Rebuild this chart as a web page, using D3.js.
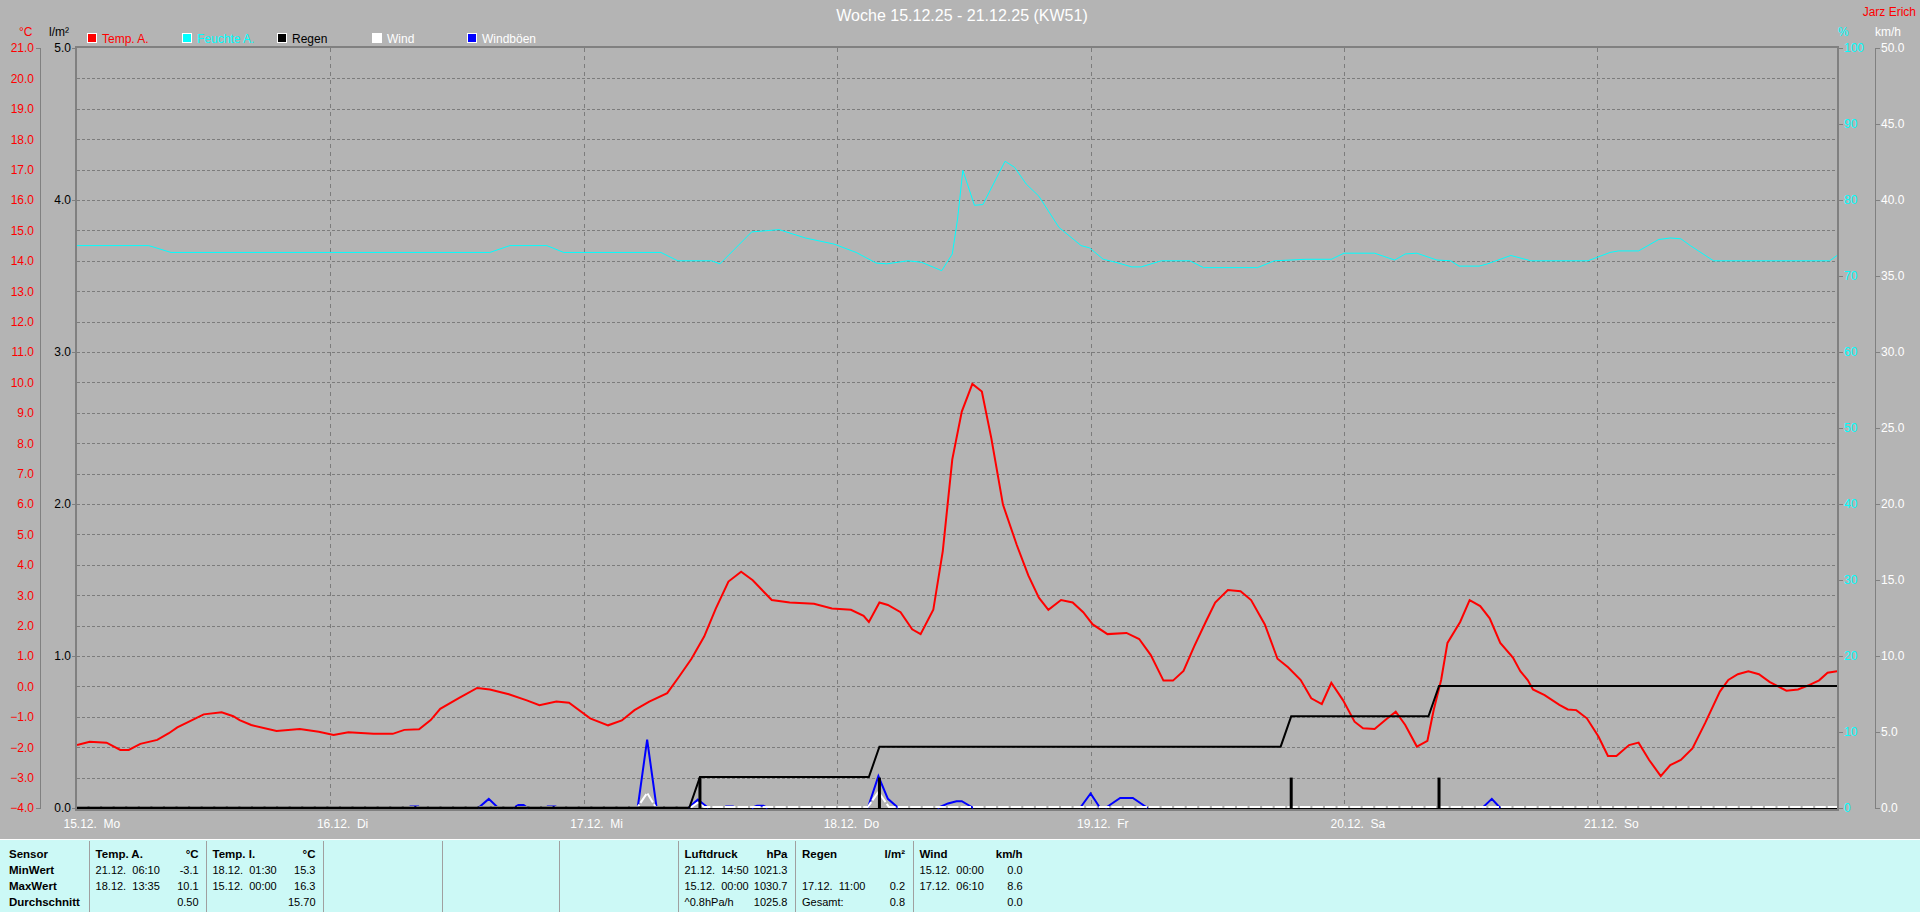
<!DOCTYPE html>
<html>
  <head>
    <title>Woche 15.12.25 - 21.12.25 (KW51)</title>
    <script src="https://d3js.org/d3.v7.min.js"></script>
    <style>
      body { margin: 0; background: #b4b4b4; }
      svg text { font-family: "Liberation Sans", Arial, sans-serif; }
      .pre { white-space: pre; }
    </style>
  </head>
  <body>
    <div id="chart"></div>
    <script>
      // hours since 15.12. 00:00, value
      var tempPoints = [
        [0,-1.93],[1.2,-1.82],[2.8,-1.85],[4.1,-2.09],[4.9,-2.09],[6.0,-1.89],[7.6,-1.76],[8.7,-1.54],
        [9.5,-1.35],[10.9,-1.11],[12.0,-0.92],[13.7,-0.85],[14.8,-0.98],[15.4,-1.11],[16.5,-1.27],[18.9,-1.47],
        [21.1,-1.40],[22.9,-1.49],[24.3,-1.60],[25.7,-1.51],[28.1,-1.56],[29.9,-1.56],[31.0,-1.43],[32.4,-1.41],
        [33.5,-1.11],[34.4,-0.74],[36.2,-0.38],[37.9,-0.05],[39.1,-0.10],[40.9,-0.26],[42.6,-0.46],[43.8,-0.62],
        [45.4,-0.50],[46.6,-0.54],[48.6,-1.05],[50.3,-1.28],[51.6,-1.12],[52.8,-0.78],[54.2,-0.50],[55.9,-0.22],
        [57.0,0.31],[58.2,0.91],[59.4,1.64],[60.5,2.56],[61.7,3.45],[62.9,3.77],[64.0,3.49],[65.8,2.84],
        [67.5,2.76],[69.8,2.72],[71.5,2.56],[73.3,2.52],[74.5,2.32],[75.0,2.12],[76.0,2.76],[76.8,2.68],
        [78.0,2.44],[79.1,1.88],[79.9,1.72],[81.1,2.52],[82.0,4.45],[82.9,7.47],[83.8,9.04],[84.8,9.95],
        [85.7,9.70],[86.6,8.16],[87.7,5.98],[89.0,4.66],[90.1,3.65],[91.1,2.92],[92.0,2.52],[93.2,2.84],
        [94.3,2.76],[95.3,2.44],[96.2,2.04],[97.6,1.72],[99.4,1.76],[100.6,1.56],[101.7,1.03],[102.9,0.19],
        [103.8,0.19],[104.8,0.51],[105.8,1.31],[106.9,2.12],[107.8,2.76],[109.0,3.17],[110.2,3.13],[111.2,2.84],
        [112.5,2.04],[113.7,0.91],[114.7,0.63],[115.9,0.21],[116.9,-0.39],[117.9,-0.58],[118.8,0.12],[119.9,-0.45],
        [121.0,-1.16],[121.8,-1.38],[122.9,-1.40],[124.0,-1.08],[124.9,-0.83],[125.8,-1.27],[126.9,-1.98],[127.9,-1.79],
        [128.5,-0.77],[129.2,0.21],[129.8,1.43],[131.0,2.12],[131.9,2.84],[132.9,2.64],[133.8,2.24],[134.8,1.43],
        [136.0,0.95],[136.7,0.50],[137.4,0.21],[137.9,-0.10],[139.0,-0.29],[140.4,-0.61],[141.2,-0.76],[142.0,-0.78],
        [143.0,-1.05],[144.1,-1.65],[145.0,-2.29],[145.8,-2.29],[147.0,-1.93],[147.9,-1.85],[148.9,-2.42],[150.0,-2.95],
        [150.9,-2.59],[151.9,-2.42],[153.0,-2.04],[154.2,-1.21],[155.6,-0.17],[156.4,0.21],[157.3,0.40],[158.3,0.50],
        [159.3,0.40],[160.3,0.15],[161.9,-0.14],[163.0,-0.10],[164.1,0.05],[165.0,0.20],[165.8,0.45],[166.7,0.50]
      ];

      var humPoints = [
        [0,74.0],[6.8,74.0],[8.9,73.1],[39.1,73.1],[41.0,74.0],[44.5,74.0],[46.1,73.1],[55.3,73.1],
        [56.9,72.0],[60.1,72.0],[60.9,71.6],[63.9,75.8],[66.5,76.1],[69.0,75.0],[71.7,74.2],[73.8,73.1],
        [75.7,71.7],[76.7,71.6],[78.7,72.0],[80.0,71.8],[81.9,70.7],[82.9,72.9],[83.4,77.5],[83.9,83.9],
        [85.0,79.3],[85.8,79.4],[87.9,85.1],[88.8,84.3],[89.9,82.1],[91.1,80.5],[93.0,76.4],[95.1,74.0],
        [95.9,73.7],[97.2,72.2],[98.4,71.8],[99.9,71.2],[100.8,71.2],[102.7,72.0],[105.4,72.0],[106.7,71.1],
        [111.8,71.1],[113.4,72.0],[116.4,72.2],[118.8,72.2],[120.0,73.0],[122.9,73.0],[124.8,72.1],[125.8,72.9],
        [126.9,73.0],[128.8,72.1],[130.1,72.0],[130.9,71.3],[132.8,71.3],[133.6,71.6],[135.8,72.7],[137.7,72.0],
        [143.1,72.0],[145.2,73.1],[146.0,73.3],[147.9,73.3],[149.8,74.8],[150.9,75.0],[151.9,74.9],[152.8,74.0],
        [155.0,72.0],[166.0,72.0],[166.7,72.7]
      ];

      var rainTotalPoints = [[0,0],[58,0],[59,0.2],[75,0.2],[76,0.4],[114,0.4],[115,0.6],[128,0.6],[129,0.8],[166.7,0.8]];
      var rainBars = [[59,0.2],[76,0.2],[115,0.2],[129,0.2]];

      var windPoints = [[0,0],[53.1,0],[54.0,0.92],[54.8,0],[58.2,0],[58.8,0.3],[59.4,0],[74.9,0],[75.9,1.0],[76.9,0],[166.7,0]];

      // gust events, null = gap
      var gustPoints = [
        [31.5,0.1],[32.4,0.1],null,
        [38.0,0],[39.0,0.6],[39.9,0],null,
        [41.3,0],[41.8,0.2],[42.3,0.2],[42.7,0],null,
        [44.5,0.1],[45.4,0.1],null,
        [53.1,0],[54.0,4.5],[54.9,0],null,
        [57.9,0],[58.8,0.55],[59.8,0],null,
        [61.4,0.1],[62.2,0.1],null,
        [63.9,0],[64.4,0.15],[65.0,0.15],[65.4,0],null,
        [74.9,0],[75.9,2.1],[76.8,0.6],[77.8,0],null,
        [81.5,0],[82.5,0.3],[83.3,0.45],[83.8,0.45],[84.9,0],null,
        [95.0,0],[96.0,0.96],[96.9,0],null,
        [97.4,0],[98.8,0.66],[100.0,0.66],[101.4,0],null,
        [133.1,0],[134.0,0.6],[134.8,0]
      ];

      var dayHours = [0, 24, 48, 72, 96, 120, 144];
      var dayLabels = ["15.12.  Mo", "16.12.  Di", "17.12.  Mi", "18.12.  Do", "19.12.  Fr", "20.12.  Sa", "21.12.  So"];
      var tempTicks = d3.range(-4, 21.5, 1);
      var rainTicks = [0, 1, 2, 3, 4, 5];
      var humTicks = [0, 10, 20, 30, 40, 50, 60, 70, 80, 90, 100];
      var windTicks = [0, 5, 10, 15, 20, 25, 30, 35, 40, 45, 50];

      var legendNames = ["Temp. A.", "Feuchte A.", "Regen", "Wind", "Windböen"];
      var legendColors = ["#ff0000", "#00ffff", "#000000", "#ffffff", "#0000ff"];
      var legendTextColors = ["#ff0000", "#00ffff", "#000000", "#ffffff", "#ffffff"];

      var tableCols = [
        [["Sensor", ""], ["MinWert", ""], ["MaxWert", ""], ["Durchschnitt", ""]],
        [["Temp. A.", "°C"], ["21.12.  06:10", "-3.1"], ["18.12.  13:35", "10.1"], ["", "0.50"]],
        [["Temp. I.", "°C"], ["18.12.  01:30", "15.3"], ["15.12.  00:00", "16.3"], ["", "15.70"]],
        [["", ""], ["", ""], ["", ""], ["", ""]],
        [["", ""], ["", ""], ["", ""], ["", ""]],
        [["", ""], ["", ""], ["", ""], ["", ""]],
        [["Luftdruck", "hPa"], ["21.12.  14:50", "1021.3"], ["15.12.  00:00", "1030.7"], ["^0.8hPa/h", "1025.8"]],
        [["Regen", "l/m²"], ["", ""], ["17.12.  11:00", "0.2"], ["Gesamt:", "0.8"]],
        [["Wind", "km/h"], ["15.12.  00:00", "0.0"], ["17.12.  06:10", "8.6"], ["", "0.0"]]
      ];

      var W = 1920, H = 912;
      var pLeft = 77, pRight = 1837, pTop = 48, pBottom = 808;
      var dayPx = 253.4;

      var svg = d3.select("#chart").append("svg")
        .attr("width", W)
        .attr("height", H);

      svg.append("rect").attr("width", W).attr("height", H).attr("fill", "#b4b4b4");

      svg.append("clipPath").attr("id", "plotclip").append("rect")
        .attr("x", pLeft).attr("y", pTop - 2).attr("width", pRight - pLeft).attr("height", pBottom - pTop + 4);

      var x = d3.scaleLinear().domain([0, 168]).range([pLeft, pLeft + 7 * dayPx]);
      var yT = d3.scaleLinear().domain([-4, 21]).range([pBottom, pTop]);
      var yR = d3.scaleLinear().domain([0, 5]).range([pBottom, pTop]);
      var yH = d3.scaleLinear().domain([0, 100]).range([pBottom, pTop]);
      var yW = d3.scaleLinear().domain([0, 50]).range([pBottom, pTop]);

      // grid
      svg.append("g").selectAll("line")
        .data(tempTicks.filter(function(d) { return d > -4 && d < 21; }))
        .enter().append("line")
        .attr("x1", pLeft).attr("x2", pRight)
        .attr("y1", function(d) { return Math.round(yT(d)) + 0.5; })
        .attr("y2", function(d) { return Math.round(yT(d)) + 0.5; })
        .attr("stroke", "#7c7c7c").attr("stroke-dasharray", "3,2");

      svg.append("g").selectAll("line")
        .data(dayHours.slice(1))
        .enter().append("line")
        .attr("x1", function(d) { return Math.round(x(d)) + 0.5; })
        .attr("x2", function(d) { return Math.round(x(d)) + 0.5; })
        .attr("y1", pTop).attr("y2", pBottom)
        .attr("stroke", "#7c7c7c").attr("stroke-dasharray", "4,4");

      // frame
      svg.append("line").attr("x1", pLeft).attr("x2", pRight).attr("y1", pTop - 1).attr("y2", pTop - 1)
        .attr("stroke", "#808080").attr("stroke-width", 2);
      svg.append("line").attr("x1", pLeft).attr("x2", pRight).attr("y1", pBottom + 2).attr("y2", pBottom + 2)
        .attr("stroke", "#808080").attr("stroke-width", 2);
      svg.append("line").attr("x1", pLeft - 1).attr("x2", pLeft - 1).attr("y1", pTop - 2).attr("y2", pBottom + 3)
        .attr("stroke", "#808080").attr("stroke-width", 2);
      svg.append("line").attr("x1", pRight + 1).attr("x2", pRight + 1).attr("y1", pTop - 2).attr("y2", pBottom + 3)
        .attr("stroke", "#808080").attr("stroke-width", 2);

      // temp axis (outer left)
      svg.append("line").attr("x1", 40.5).attr("x2", 40.5).attr("y1", pTop).attr("y2", pBottom + 1)
        .attr("stroke", "#808080");
      svg.append("line").attr("x1", 36).attr("x2", 41).attr("y1", pTop + 0.5).attr("y2", pTop + 0.5).attr("stroke", "#808080");
      svg.append("line").attr("x1", 36).attr("x2", 41).attr("y1", pBottom + 0.5).attr("y2", pBottom + 0.5).attr("stroke", "#808080");
      var gT = svg.append("g").attr("transform", "translate(41,0)")
        .call(d3.axisLeft(yT).tickValues(tempTicks).tickSize(0).tickPadding(7).tickFormat(d3.format(".1f")));
      gT.select(".domain").remove();
      gT.selectAll("text").attr("fill", "#ff0000").style("font-size", "12px");

      // rain axis
      var gR = svg.append("g").attr("transform", "translate(76,0)")
        .call(d3.axisLeft(yR).tickValues(rainTicks).tickSize(4).tickPadding(1).tickFormat(d3.format(".1f")));
      gR.select(".domain").remove();
      gR.selectAll("line").attr("stroke", "#808080");
      gR.selectAll("text").attr("fill", "#000").style("font-size", "12px");

      // humidity axis
      var gH = svg.append("g").attr("transform", "translate(1838,0)")
        .call(d3.axisRight(yH).tickValues(humTicks).tickSize(5).tickPadding(1).tickFormat(d3.format("d")));
      gH.select(".domain").remove();
      gH.selectAll("line").attr("stroke", "#808080");
      gH.selectAll("text").attr("fill", "#00ffff").style("font-size", "12px");

      // wind axis
      svg.append("line").attr("x1", 1875.5).attr("x2", 1875.5).attr("y1", pTop).attr("y2", pBottom + 1)
        .attr("stroke", "#808080");
      var gW = svg.append("g").attr("transform", "translate(1875,0)")
        .call(d3.axisRight(yW).tickValues(windTicks).tickSize(5).tickPadding(1).tickFormat(d3.format(".1f")));
      gW.select(".domain").remove();
      gW.selectAll("line").attr("stroke", "#808080");
      gW.selectAll("text").attr("fill", "#fff").style("font-size", "12px");

      // x axis labels
      var gX = svg.append("g").attr("transform", "translate(0," + pBottom + ")")
        .call(d3.axisBottom(x).tickValues(dayHours).tickSize(0).tickPadding(11)
          .tickFormat(function(d, i) { return dayLabels[i]; }));
      gX.select(".domain").remove();
      gX.selectAll("text").attr("text-anchor", "start").attr("dx", -14)
        .attr("fill", "#fff").attr("class", "pre").style("font-size", "12px");

      // axis unit labels
      svg.append("text").attr("x", 19).attr("y", 36).attr("fill", "#ff0000").style("font-size", "12px").text("°C");
      svg.append("text").attr("x", 49).attr("y", 36).attr("fill", "#000").style("font-size", "12px").text("l/m²");
      svg.append("text").attr("x", 1838).attr("y", 36).attr("fill", "#00ffff").style("font-size", "12px").text("%");
      svg.append("text").attr("x", 1875).attr("y", 36).attr("fill", "#fff").style("font-size", "12px").text("km/h");
      svg.append("text").attr("x", 1916).attr("y", 16).attr("text-anchor", "end").attr("fill", "#ff0000")
        .style("font-size", "12px").text("Jarz Erich");

      // title
      svg.append("text").attr("x", 962).attr("y", 21).attr("text-anchor", "middle").attr("fill", "#fff")
        .style("font-size", "16px").text("Woche 15.12.25 - 21.12.25 (KW51)");

      // legend
      var leg = svg.append("g").selectAll("g").data(legendNames).enter().append("g")
        .attr("transform", function(d, i) { return "translate(" + (87 + i * 95) + ",33)"; });
      leg.append("rect").attr("x", 0.5).attr("y", 0.5).attr("width", 9).attr("height", 9)
        .attr("fill", function(d, i) { return legendColors[i]; })
        .attr("stroke", "#fff");
      leg.append("text").attr("x", 15).attr("y", 9.5)
        .attr("fill", function(d, i) { return legendTextColors[i]; })
        .style("font-size", "12px").text(function(d) { return d; });

      // series
      var lineT = d3.line().x(function(d) { return x(d[0]); }).y(function(d) { return yT(d[1]); });
      var lineH = d3.line().x(function(d) { return x(d[0]); }).y(function(d) { return yH(d[1]); });
      var lineR = d3.line().x(function(d) { return x(d[0]); }).y(function(d) { return yR(d[1]); });
      var lineW = d3.line().defined(function(d) { return d !== null; })
        .x(function(d) { return x(d[0]); }).y(function(d) { return yW(d[1]); });

      var plot = svg.append("g").attr("clip-path", "url(#plotclip)");

      // zero axis line
      plot.append("line").attr("x1", pLeft).attr("x2", pRight).attr("y1", pBottom + 0.5).attr("y2", pBottom + 0.5)
        .attr("stroke", "#000");

      plot.append("path").datum(humPoints).attr("d", lineH)
        .attr("fill", "none").attr("stroke", "#00ffff").attr("stroke-width", 1);

      plot.append("path").datum(tempPoints).attr("d", lineT)
        .attr("fill", "none").attr("stroke", "#ff0000").attr("stroke-width", 2);

      plot.append("path").datum(gustPoints).attr("d", lineW)
        .attr("fill", "none").attr("stroke", "#0000ff").attr("stroke-width", 2);

      plot.append("path").datum(windPoints).attr("d", lineW)
        .attr("transform", "translate(0,-1)")
        .attr("fill", "none").attr("stroke", "#fff").attr("stroke-width", 2)
        .attr("stroke-dasharray", "10.5,2.07");

      plot.append("path").datum(rainTotalPoints).attr("d", lineR)
        .attr("transform", "translate(0,-0.5)")
        .attr("fill", "none").attr("stroke", "#000").attr("stroke-width", 2);

      plot.append("g").selectAll("line").data(rainBars).enter().append("line")
        .attr("x1", function(d) { return x(d[0]); })
        .attr("x2", function(d) { return x(d[0]); })
        .attr("y1", yR(0)).attr("y2", function(d) { return yR(d[1]); })
        .attr("stroke", "#000").attr("stroke-width", 3);

      // table
      var panelTop = 839;
      svg.append("rect").attr("x", 0).attr("y", panelTop).attr("width", W).attr("height", H - panelTop)
        .attr("fill", "#ccf9f6");
      svg.append("line").attr("x1", 0).attr("x2", W).attr("y1", panelTop + 0.5).attr("y2", panelTop + 0.5)
        .attr("stroke", "#fff");

      var colStarts = [0, 88.6, 205.5, 323.2, 441.6, 559, 677.5, 795, 912.6];
      svg.append("g").selectAll("line").data(colStarts.slice(1)).enter().append("line")
        .attr("x1", function(d) { return Math.round(d) + 0.5; })
        .attr("x2", function(d) { return Math.round(d) + 0.5; })
        .attr("y1", panelTop + 2).attr("y2", H)
        .attr("stroke", "#a0a0a0");

      var rowY = [858, 874, 890, 906];
      tableCols.forEach(function(col, ci) {
        var lx = ci === 0 ? 9 : colStarts[ci] + 7;
        var rx = colStarts[ci] + 110;
        col.forEach(function(cell, ri) {
          var bold = ri === 0 || ci === 0;
          var fs = bold ? "11.5px" : "11px";
          svg.append("text").attr("class", "pre").attr("x", lx).attr("y", rowY[ri])
            .attr("fill", "#000").style("font-size", fs)
            .style("font-weight", bold ? "bold" : "normal").text(cell[0]);
          svg.append("text").attr("x", rx).attr("y", rowY[ri]).attr("text-anchor", "end")
            .attr("fill", "#000").style("font-size", fs)
            .style("font-weight", bold ? "bold" : "normal").text(cell[1]);
        });
      });
    </script>
  </body>
</html>
